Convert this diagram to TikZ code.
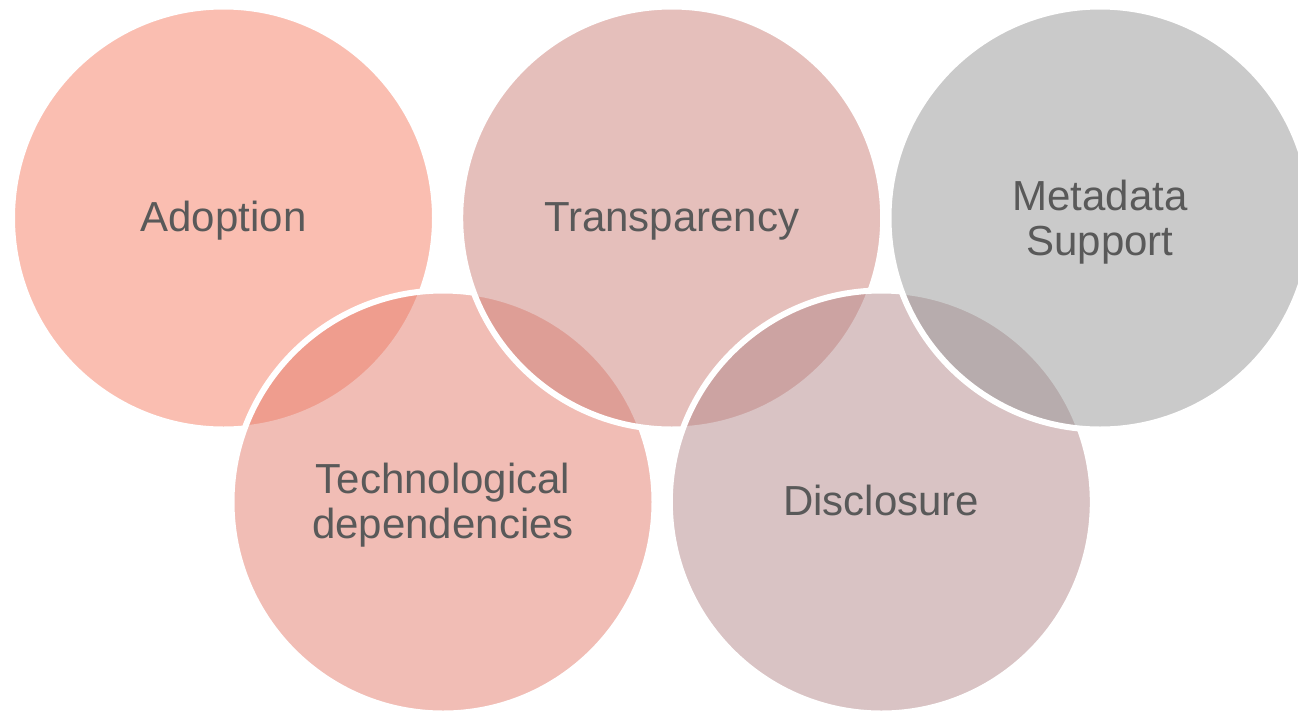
\documentclass[tikz,border=0pt]{standalone}
\usepackage{fontspec}
\setmainfont{Liberation Sans}
\definecolor{cAdopt}{RGB}{247,127,101}
\definecolor{cTech}{RGB}{229,125,109}
\definecolor{cTrans}{RGB}{205,129,121}
\definecolor{cDisc}{RGB}{181,137,139}
\definecolor{cMeta}{RGB}{151,151,151}
\definecolor{txt}{RGB}{89,89,89}
\tikzset{
  disc/.style={circle, minimum size=423pt, inner sep=0pt, draw=white, line width=6pt, fill=#1, fill opacity=0.5},
  lbl/.style={text=txt, align=center, inner sep=0pt, anchor=base, font=\fontsize{42}{45}\selectfont}
}
\begin{document}
\begin{tikzpicture}[x=1pt,y=-1pt]
\useasboundingbox (0,0) rectangle (1298,710);
\clip (0,0) rectangle (1298,710);
\fill[white] (0,0) rectangle (1298,710);
\node[disc=cAdopt] (adopt) at (223.5,218) {};
\node[disc=cTech] (tech) at (443,502) {};
\node[disc=cTrans] (trans) at (671.7,218) {};
\node[disc=cDisc] (disc) at (881.3,502) {};
\node[disc=cMeta] (meta) at (1100,218) {};
\node[lbl] (tadopt) at ([yshift=-13.7pt]adopt.center) {Adoption};
\node[lbl] (ttrans) at ([yshift=-13.7pt]trans.center) {Transparency};
\node[lbl] (tdisc) at ([yshift=-13.7pt]disc.center) {Disclosure};
\node[lbl] (ttech) at ([yshift=-36.3pt]tech.center) {Technological\\dependencies};
\node[lbl] (tmeta) at ([yshift=-37pt]meta.center) {Metadata\\Support};
\end{tikzpicture}
\end{document}
